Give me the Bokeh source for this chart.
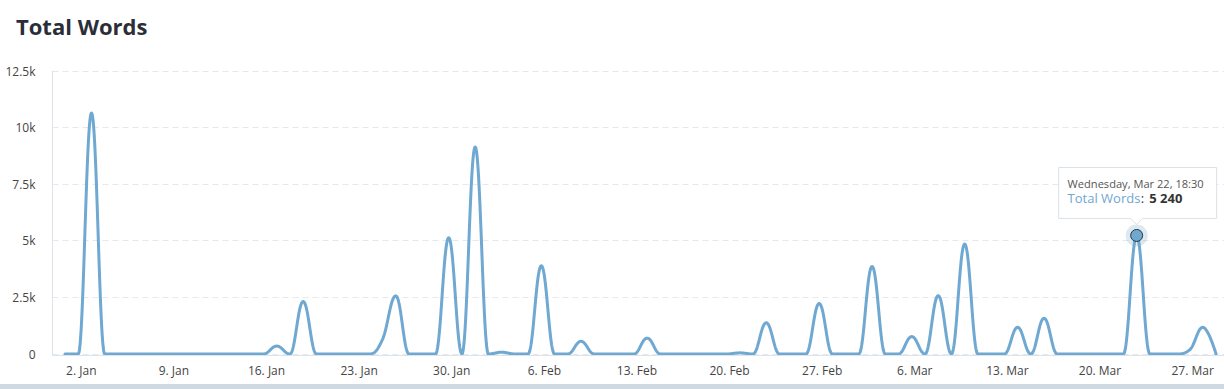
import numpy as np
import pandas as pd
from bokeh.plotting import figure
from bokeh.models import FixedTicker, Range1d, Div
from bokeh.layouts import column
from bokeh.core.properties import value
from bokeh.embed import file_html
from bokeh.resources import INLINE

# ---------------- data ----------------
title_text = "Total Words"
series_name = "Total Words"
start_time = "2016-12-31 18:30"          # one point per day
words = [
    0, 0, 10650, 0, 0, 0, 0, 0, 0, 0,          # Dec 31 - Jan 9
    0, 0, 0, 0, 0, 0, 350, 0, 2320, 0,         # Jan 10 - Jan 19
    0, 0, 0, 0, 650, 2570, 0, 0, 0, 5140,      # Jan 20 - Jan 29
    0, 9150, 0, 80, 0, 0, 3900, 0, 0, 560,     # Jan 30 - Feb 8
    0, 0, 0, 0, 700, 0, 0, 0, 0, 0,            # Feb 9 - Feb 18
    0, 50, 0, 1380, 0, 0, 0, 2230, 0, 0,       # Feb 19 - Feb 28
    0, 3870, 0, 0, 770, 0, 2580, 0, 4860, 0,   # Mar 1 - Mar 10
    0, 0, 1180, 0, 1580, 0, 0, 0, 0, 0,        # Mar 11 - Mar 20
    0, 5240, 0, 0, 0, 180, 1180, 0,            # Mar 21 - Mar 28
]
x_tick_dates = ["2017-01-02", "2017-01-09", "2017-01-16", "2017-01-23", "2017-01-30",
                "2017-02-06", "2017-02-13", "2017-02-20", "2017-02-27", "2017-03-06",
                "2017-03-13", "2017-03-20", "2017-03-27"]
x_tick_labels = ["2. Jan", "9. Jan", "16. Jan", "23. Jan", "30. Jan", "6. Feb", "13. Feb",
                 "20. Feb", "27. Feb", "6. Mar", "13. Mar", "20. Mar", "27. Mar"]
y_ticks = [0, 2500, 5000, 7500, 10000, 12500]
y_tick_labels = ["0", "2.5k", "5k", "7.5k", "10k", "12.5k"]
hover_date = "2017-03-22 18:30"
tooltip_header = "Wednesday, Mar 22, 18:30"
tooltip_value = "5 240"

# ---------------- styling ----------------
FONT = "Open Sans"
LINE_COLOR = "#6fa8d1"
GRID_COLOR = "#e3e9ee"
AXIS_COLOR = "#dce3ea"
LABEL_COLOR = "#444444"

DAY = 86400000.0
dates = pd.date_range(start_time, periods=len(words), freq="D")
xs = (dates.astype("int64") // 10**6).astype(float).to_numpy()
ys = np.array(words, dtype=float)
tick_ms = [float(v) for v in (pd.to_datetime(x_tick_dates).astype("int64") // 10**6)]

# Highcharts-like spline (smoothing 1.5, no false extremes)
def spline(xv, yv, smoothing=1.5, n=30):
    m = len(xv)
    denom = smoothing + 1
    lc = [(xv[i], yv[i]) for i in range(m)]
    rc = [(xv[i], yv[i]) for i in range(m)]
    for i in range(1, m - 1):
        px, py = xv[i], yv[i]
        lx, ly = xv[i - 1], yv[i - 1]
        nx, ny = xv[i + 1], yv[i + 1]
        lcx = (smoothing * px + lx) / denom
        lcy = (smoothing * py + ly) / denom
        rcx = (smoothing * px + nx) / denom
        rcy = (smoothing * py + ny) / denom
        corr = 0.0
        if rcx != lcx:
            corr = ((rcy - lcy) * (rcx - px)) / (rcx - lcx) + py - rcy
        lcy += corr
        rcy += corr
        if lcy > ly and lcy > py:
            lcy = max(ly, py); rcy = 2 * py - lcy
        elif lcy < ly and lcy < py:
            lcy = min(ly, py); rcy = 2 * py - lcy
        if rcy > ny and rcy > py:
            rcy = max(ny, py); lcy = 2 * py - rcy
        elif rcy < ny and rcy < py:
            rcy = min(ny, py); lcy = 2 * py - rcy
        lc[i] = (lcx, lcy)
        rc[i] = (rcx, rcy)
    t = np.linspace(0, 1, n)
    ox, oy = [xv[0]], [yv[0]]
    for i in range(1, m):
        p0 = (xv[i - 1], yv[i - 1]); c0 = rc[i - 1]; c1 = lc[i]; p1 = (xv[i], yv[i])
        a = (1 - t) ** 3; b = 3 * (1 - t) ** 2 * t; c = 3 * (1 - t) * t ** 2; d = t ** 3
        bx = a * p0[0] + b * c0[0] + c * c1[0] + d * p1[0]
        by = a * p0[1] + b * c0[1] + c * c1[1] + d * p1[1]
        ox.extend(bx[1:]); oy.extend(by[1:])
    return np.array(ox), np.array(oy)

sx, sy = spline(xs, ys)

# ---------------- geometry ----------------
PAGE_W = 1224
TITLE_H = 44
FIG_W, FIG_H = PAGE_W, 384 - TITLE_H
B_LEFT, B_RIGHT, B_TOP, B_BOTTOM = 52, 0, 70 - TITLE_H, 29
frame_w = FIG_W - B_LEFT - B_RIGHT
frame_h = FIG_H - B_TOP - B_BOTTOM
px_per_day = 13.23
x0 = tick_ms[0] - (80.8 - B_LEFT) / px_per_day * DAY
x1 = x0 + frame_w / px_per_day * DAY
px_per_unit = 0.022624
y0 = -1.5 / px_per_unit
y1 = y0 + frame_h / px_per_unit

title_div = Div(
    text=('<div style="font-family:\'Open Sans\';font-size:22px;font-weight:bold;'
          'color:#2b2e38;line-height:30px;padding:11px 0 0 16px;margin:0;'
          'white-space:nowrap;">' + title_text + '</div>'),
    width=PAGE_W, height=TITLE_H, margin=0)

p = figure(width=FIG_W, height=FIG_H, x_axis_type="datetime",
           x_range=Range1d(x0, x1), y_range=Range1d(y0, y1),
           output_backend="svg", toolbar_location=None,
           min_border_left=B_LEFT, min_border_right=B_RIGHT,
           min_border_top=B_TOP, min_border_bottom=B_BOTTOM)
p.outline_line_color = None
p.background_fill_color = "white"
p.border_fill_color = "white"

# axes
p.xaxis.ticker = FixedTicker(ticks=tick_ms)
p.xaxis.major_label_overrides = {t: l for t, l in zip(tick_ms, x_tick_labels)}
p.yaxis.ticker = FixedTicker(ticks=y_ticks)
p.yaxis.major_label_overrides = {float(t): l for t, l in zip(y_ticks, y_tick_labels)}
for ax in (p.xaxis[0], p.yaxis[0]):
    ax.major_tick_line_color = None
    ax.minor_tick_line_color = None
    ax.major_tick_out = 0
    ax.major_tick_in = 0
    ax.axis_line_color = AXIS_COLOR
    ax.axis_line_width = 1
    ax.major_label_text_font = FONT
    ax.major_label_text_font_size = "12px"
    ax.major_label_text_color = LABEL_COLOR
p.xaxis.major_label_standoff = 6
p.yaxis.major_label_standoff = 17

p.xgrid.visible = False
p.ygrid.ticker = FixedTicker(ticks=y_ticks)
p.ygrid.grid_line_color = GRID_COLOR
p.ygrid.grid_line_dash = "6 4"
p.ygrid.grid_line_width = 1

# series
p.line(sx, sy, line_color=LINE_COLOR, line_width=3, line_join="round", line_cap="round")

# hovered point
hx = float(pd.Timestamp(hover_date).value // 10**6)
hy = float(ys[int(np.argmin(np.abs(xs - hx)))])
p.scatter([hx], [hy], size=22, fill_color=LINE_COLOR, fill_alpha=0.25, line_color=None)
p.scatter([hx], [hy], size=12, fill_color=LINE_COLOR, line_color="#333333", line_width=1)

# tooltip (pixel offsets from the hovered point)
def dx(px):
    return hx + px / px_per_day * DAY
def dy(py):
    return hy - py / px_per_unit

L, R, T, Bt = -78, 80, -68, -17
tip = -11
shape_x = [dx(L), dx(R), dx(R), dx(6), dx(0), dx(-6), dx(L)]
shape_y = [dy(T), dy(T), dy(Bt), dy(Bt), dy(tip), dy(Bt), dy(Bt)]
p.patch(shape_x, shape_y, fill_color="white", fill_alpha=0.97,
        line_color="#d9e1e8", line_width=1)

p.text([dx(-69.1)], [dy(-51.5)], text=[tooltip_header], text_font=value(FONT),
       text_font_size="11.1px", text_color="#555555", text_baseline="middle", text_align="left")
p.text([dx(-69.1)], [dy(-37.0)], text=[series_name], text_font=value(FONT),
       text_font_size="13px", text_color=LINE_COLOR, text_baseline="middle", text_align="left")
p.text([dx(4.2)], [dy(-37.0)], text=[":"], text_font=value(FONT),
       text_font_size="13px", text_color="#333333", text_baseline="middle", text_align="left")
p.text([dx(12.6)], [dy(-37.0)], text=[tooltip_value], text_font=value(FONT),
       text_font_size="13px", text_font_style="bold", text_color="#333333",
       text_baseline="middle", text_align="left")

band = Div(text="", width=PAGE_W, height=5, margin=0,
           styles={"background-color": "#cfd9e2"})

layout = column(title_div, p, band, spacing=0)
open("out.html", "w").write(file_html(layout, INLINE))
